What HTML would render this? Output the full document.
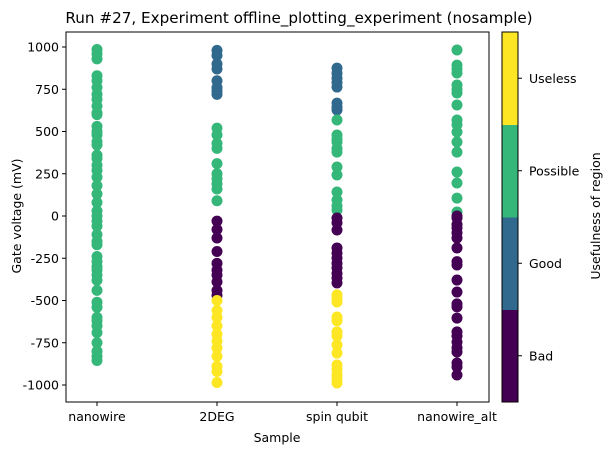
<!DOCTYPE html>
<html><head><meta charset="utf-8"><style>
body{margin:0;background:#fff;}
svg text{font-family:"DejaVu Sans","Liberation Sans",sans-serif;fill:#000;}
</style></head><body>
<svg id="chart" width="614" height="455" xmlns="http://www.w3.org/2000/svg">
<text x="299" y="23" font-size="15.2" text-anchor="middle">Run #27, Experiment offline_plotting_experiment (nosample)</text>
<g id="marks"></g>
<rect x="66" y="32" width="423" height="370" fill="none" stroke="#000" stroke-width="1"/>
<g id="yaxis"></g>
<g id="xaxis"></g>
<text x="277" y="442" font-size="12.5" text-anchor="middle">Sample</text>
<text transform="translate(21,216) rotate(-90)" font-size="12.5" text-anchor="middle">Gate voltage (mV)</text>
<g id="cbar"></g>
<text transform="translate(600,216) rotate(-90)" font-size="12.5" text-anchor="middle">Usefulness of region</text>
</svg>
<script>
const categories=["nanowire","2DEG","spin qubit","nanowire_alt"];
const classNames=["Bad","Good","Possible","Useless"];
const classColors=["#440154","#31688e","#35b779","#fde725"];
const yTicks=[1000,750,500,250,0,-250,-500,-750,-1000];
const nanowireVals=[985,960,930,830,800,760,720,690,650,610,600,530,500,480,440,420,360,340,300,270,230,180,130,80,30,0,-30,-60,-110,-150,-170,-240,-270,-300,-320,-350,-380,-440,-510,-540,-600,-620,-650,-690,-750,-800,-830,-855];
const nanowireCls=nanowireVals.map(()=>2);
const twoDegVals=[980,950,900,870,800,760,740,720,520,480,430,400,310,250,220,190,160,90,-30,-80,-130,-210,-280,-320,-350,-390,-440,-470,-500,-560,-600,-650,-700,-740,-780,-830,-890,-920,-985];
const twoDegCls=[1,1,1,1,1,1,1,1,2,2,2,2,2,2,2,2,2,2,0,0,0,0,0,0,0,0,0,0,3,3,3,3,3,3,3,3,3,3,3];
const spinVals=[875,845,816,790,763,668,645,627,568,479,455,438,400,378,290,243,142,95,60,35,-12,-40,-83,-189,-220,-249,-280,-308,-340,-367,-396,-467,-490,-509,-598,-620,-686,-710,-763,-811,-882,-910,-941,-965,-988];
const spinCls=[1,1,1,1,1,1,1,1,2,2,2,2,2,2,2,2,2,2,2,2,0,0,0,0,0,0,0,0,0,0,0,3,3,3,3,3,3,3,3,3,3,3,3,3,3];
const altVals=[982,893,870,846,775,750,728,657,568,540,497,438,378,260,195,106,24,0,-12,-50,-71,-100,-130,-189,-270,-290,-379,-450,-520,-538,-604,-686,-710,-746,-780,-805,-870,-893,-941];
const altCls=[2,2,2,2,2,2,2,2,2,2,2,2,2,2,2,2,2,0,0,0,0,0,0,0,0,0,0,0,0,0,0,0,0,0,0,0,0,0,0];
const seriesVals=[nanowireVals,twoDegVals,spinVals,altVals];
const seriesCls=[nanowireCls,twoDegCls,spinCls,altCls];

const NS="http://www.w3.org/2000/svg";
const xS=i=>97+i*120;
const yS=v=>216-v*(42.25/250);
function mk(tag,attrs,parent){const e=document.createElementNS(NS,tag);for(const k in attrs)e.setAttribute(k,attrs[k]);parent.appendChild(e);return e;}
const marks=document.getElementById('marks');
seriesVals.forEach((vals,si)=>{vals.forEach((v,j)=>{
 const c=mk('circle',{cx:xS(si),cy:yS(v),r:5.5,fill:classColors[seriesCls[si][j]]},marks);
 
 
});});
const ya=document.getElementById('yaxis');
yTicks.forEach(t=>{const y=yS(t);
 const l=mk('line',{x1:62,x2:66,y1:y,y2:y,stroke:'#000'},ya);
 
 
 const tx=mk('text',{x:59,y:y+4.5,'font-size':12.5,'text-anchor':'end'},ya);tx.textContent=t;
 
 
});
const xa=document.getElementById('xaxis');
categories.forEach((c,i)=>{const x=xS(i);
 const l=mk('line',{x1:x,x2:x,y1:402,y2:406,stroke:'#000'},xa);
 
 
 const tx=mk('text',{x:x,y:421,'font-size':12.5,'text-anchor':'middle'},xa);tx.textContent=c;
 
 
});
const cb=document.getElementById('cbar');
const bh=370/classNames.length;
classNames.forEach((n,i)=>{const y0=402-(i+1)*bh;
 const r=mk('rect',{x:502,y:y0,width:16,height:bh+0.5,fill:classColors[i]},cb);
 
 
 const yc=y0+bh/2;
 mk('line',{x1:518,x2:522,y1:yc,y2:yc,stroke:'#000'},cb);
 const tx=mk('text',{x:529,y:yc+4.5,'font-size':12.5},cb);tx.textContent=n;
 
 
});
mk('rect',{x:502,y:32,width:16,height:370,fill:'none',stroke:'#000'},cb);
</script>
</body></html>
